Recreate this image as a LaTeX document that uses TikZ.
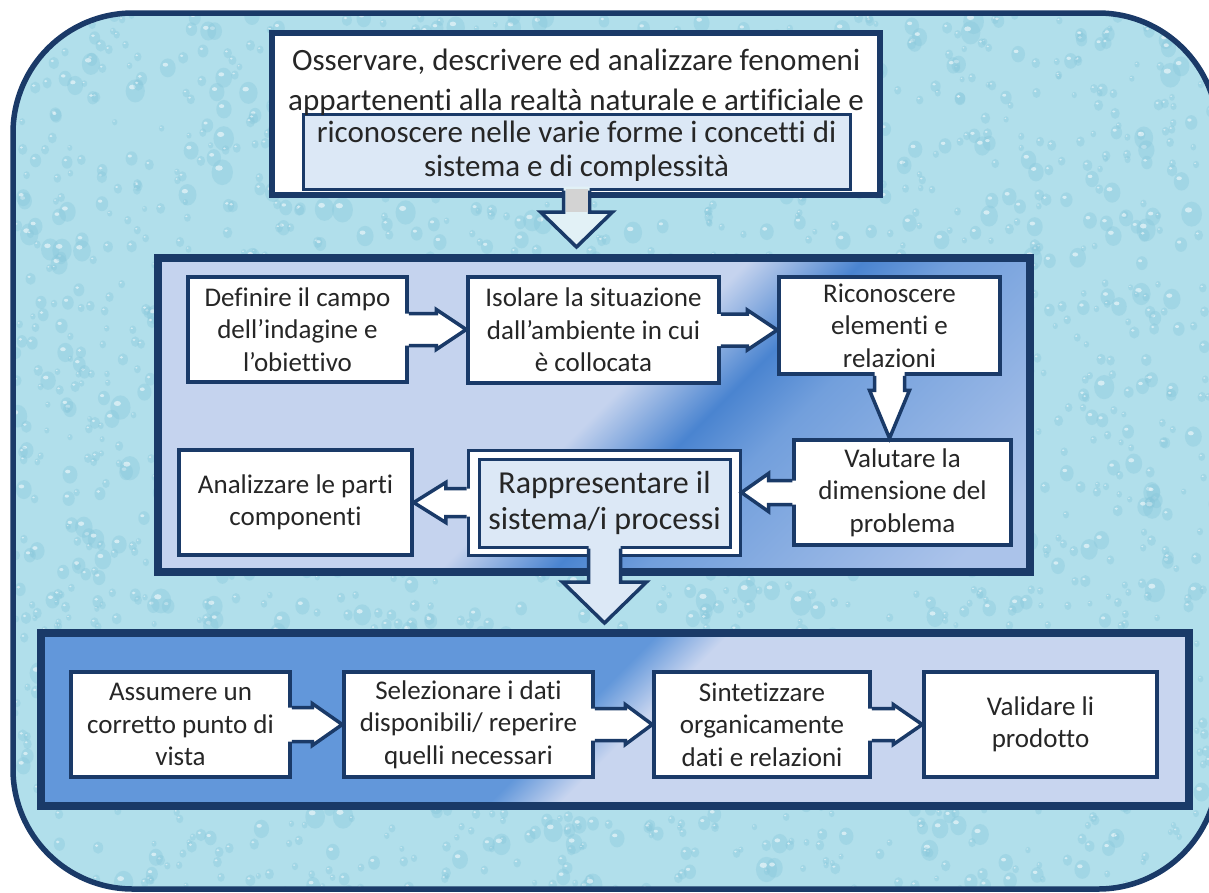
\documentclass[tikz,border=0pt]{standalone}
\usepackage{fontspec}
\setmainfont{Carlito}[Ligatures={TeX,NoCommon}]
\usetikzlibrary{calc}

\definecolor{navy}{HTML}{1A3A68}
\definecolor{ink}{HTML}{262626}
\definecolor{water}{HTML}{B1DFEB}
\definecolor{drop}{HTML}{86C6DA}
\definecolor{pale}{HTML}{DCE8F6}
\definecolor{stemgray}{HTML}{D3D3D3}
\definecolor{headwhite}{HTML}{E2F1F6}
\definecolor{mpLight}{HTML}{C5D3EE}
\definecolor{mpDark}{HTML}{4A84D0}
\definecolor{mpMid}{HTML}{729FDC}
\definecolor{mpFar}{HTML}{ABC3EA}
\definecolor{bpBlue}{HTML}{6297DA}
\definecolor{bpLav}{HTML}{C8D5EF}

\pgfdeclarehorizontalshading{midshade}{100bp}{color(0bp)=(mpLight); color(50bp)=(mpLight); color(59bp)=(mpDark); color(66bp)=(mpMid); color(90bp)=(mpFar); color(100bp)=(mpFar)}
\pgfdeclarehorizontalshading{botshade}{100bp}{color(0bp)=(bpBlue); color(47bp)=(bpBlue); color(52bp)=(bpLav); color(100bp)=(bpLav)}

% diagonal gradient inside a panel node, then its frame
\newcommand{\panelshade}[3]{%
  \begin{scope}
    \clip (#1.north west) rectangle (#1.south east);
    \pgftransformshift{\pgfpointanchor{#1}{center}}
    \pgftransformrotate{-45}
    \pgftransformscale{#3}
    \pgflowlevelsynccm
    \pgfuseshading{#2}
  \end{scope}
  \draw[panel] (#1.north west) rectangle (#1.south east);}

% block arrows: [fill]{from}{to}{stem half}{head half}{head length}
\newcommand{\rarrow}[6][white]{%
  \fill[#1] let \p1=(#2), \p2=(#3) in ({\x1-4pt},{\y1+#4pt}) -- ({\x2-#6pt},{\y1+#4pt}) -- ({\x2-#6pt},{\y1+#5pt}) -- (\x2,\y1) -- ({\x2-#6pt},{\y1-#5pt}) -- ({\x2-#6pt},{\y1-#4pt}) -- ({\x1-4pt},{\y1-#4pt}) -- cycle;
  \draw[arrowline] let \p1=(#2), \p2=(#3) in (\x1,{\y1+#4pt}) -- ({\x2-#6pt},{\y1+#4pt}) -- ({\x2-#6pt},{\y1+#5pt}) -- (\x2,\y1) -- ({\x2-#6pt},{\y1-#5pt}) -- ({\x2-#6pt},{\y1-#4pt}) -- (\x1,{\y1-#4pt});}
\newcommand{\larrow}[6][white]{%
  \fill[#1] let \p1=(#2), \p2=(#3) in ({\x1+4pt},{\y1+#4pt}) -- ({\x2+#6pt},{\y1+#4pt}) -- ({\x2+#6pt},{\y1+#5pt}) -- (\x2,\y1) -- ({\x2+#6pt},{\y1-#5pt}) -- ({\x2+#6pt},{\y1-#4pt}) -- ({\x1+4pt},{\y1-#4pt}) -- cycle;
  \draw[arrowline] let \p1=(#2), \p2=(#3) in (\x1,{\y1+#4pt}) -- ({\x2+#6pt},{\y1+#4pt}) -- ({\x2+#6pt},{\y1+#5pt}) -- (\x2,\y1) -- ({\x2+#6pt},{\y1-#5pt}) -- ({\x2+#6pt},{\y1-#4pt}) -- (\x1,{\y1-#4pt});}
\newcommand{\darrow}[6][white]{%
  \fill[#1] let \p1=(#2), \p2=(#3) in ({\x1-#4pt},{\y1+4pt}) -- ({\x1-#4pt},{\y2+#6pt}) -- ({\x1-#5pt},{\y2+#6pt}) -- (\x1,\y2) -- ({\x1+#5pt},{\y2+#6pt}) -- ({\x1+#4pt},{\y2+#6pt}) -- ({\x1+#4pt},{\y1+4pt}) -- cycle;
  \draw[arrowline] let \p1=(#2), \p2=(#3) in ({\x1-#4pt},\y1) -- ({\x1-#4pt},{\y2+#6pt}) -- ({\x1-#5pt},{\y2+#6pt}) -- (\x1,\y2) -- ({\x1+#5pt},{\y2+#6pt}) -- ({\x1+#4pt},{\y2+#6pt}) -- ({\x1+#4pt},\y1);}

\begin{document}
\begin{tikzpicture}[x=1pt,y=-1pt,
    box/.style={draw=navy, line width=3.5pt, fill=white, align=center, text=ink, inner sep=0pt, font=\fontsize{27}{32.5}\selectfont},
    panel/.style={draw=navy, line width=7.5pt},
    arrowline/.style={draw=navy, line width=3.5pt, line join=miter}]
  \path[use as bounding box, fill=white] (0,0) rectangle (1209,892);
  \fill[water, rounded corners=120pt] (13,13) rectangle (1218,889);
  % water drops
  \begin{scope}
    \clip[rounded corners=120pt] (13,13) rectangle (1218,889);
    \pgfmathsetseed{42}
    \foreach \k in {1,...,2400}{
      \pgfmathsetmacro{\dx}{15+1200*rnd}
      \pgfmathsetmacro{\dy}{15+875*rnd}
      \pgfmathsetmacro{\dr}{2.5+9*rnd*rnd}
      \fill[drop, opacity=0.35] (\dx,\dy) ellipse ({\dr} and {1.2*\dr});
      \fill[white, opacity=0.55] ({\dx-0.3*\dr},{\dy-0.4*\dr}) ellipse ({0.35*\dr} and {0.25*\dr});
    }
  \end{scope}
  \draw[navy, line width=5.5pt, rounded corners=120pt] (13,13) rectangle (1218,889);

  % goal
  \node[box, line width=6pt, minimum width=608pt, minimum height=162pt] (obs) at (576,114) {};
  \node[box, fill=pale, line width=3pt, minimum width=547pt, minimum height=75pt, font=\fontsize{31}{34}\selectfont] (obsin) at (576.5,151.5) {riconoscere nelle varie forme i concetti di\\sistema e di complessità};
  \node[text=ink, align=center, font=\fontsize{31}{40}\selectfont] (obstxt) at (576,82) {Osservare, descrivere ed analizzare fenomeni\\appartenenti alla realtà naturale e artificiale e};
  \coordinate (t1) at (576,247);
  \darrow[headwhite]{obsin.south}{t1}{13}{36}{35}
  \fill[stemgray] let \p1=(obsin.south), \p2=(t1) in ({\x1-11pt},{\y1+2pt}) rectangle ({\x1+11pt},{\y2+35pt});

  % analysis
  \node[minimum width=872pt, minimum height=314pt, inner sep=0pt] (mid) at (594,415) {};
  \panelshade{mid}{midshade}{9}
  \node[box, minimum width=219pt, minimum height=105pt] (defin) at (297.5,329.5) {Definire il campo\\dell’indagine e\\l’obiettivo};
  \node[box, minimum width=251pt, minimum height=106pt] (isol) at (593.5,330) {Isolare la situazione\\dall’ambiente in cui\\è collocata};
  \node[box, minimum width=221pt, minimum height=97pt] (ricon) at (889.5,325.5) {Riconoscere\\elementi e\\relazioni};
  \node[box, minimum width=217pt, minimum height=105pt] (valut) at (902.5,492.5) {Valutare la\\dimensione del\\problema};
  \node[box, line width=3pt, minimum width=272pt, minimum height=105pt] (rappr) at (604,502.5) {};
  \node[box, line width=3pt, fill=pale, minimum width=251pt, minimum height=88pt, font=\fontsize{32}{36}\selectfont] (rappin) at (604.5,503) {Rappresentare il\\sistema/i processi};
  \node[box, minimum width=233pt, minimum height=105pt] (anal) at (295.5,502.5) {Analizzare le parti\\componenti};

  \rarrow{defin.east}{isol.west}{16}{20}{30}
  \rarrow{isol.east}{ricon.west}{16}{20}{30}
  \darrow{ricon.south}{valut.north}{15}{20}{48}
  \larrow{valut.west}{rappr.east}{12}{19}{27}
  \larrow{rappr.west}{anal.east}{14}{20}{32}

  % synthesis
  \node[minimum width=1148pt, minimum height=173pt, inner sep=0pt] (bot) at (615,719.5) {};
  \panelshade{bot}{botshade}{10}
  \node[box, minimum width=219pt, minimum height=105pt] (assum) at (180.5,724.5) {Assumere un\\corretto punto di\\vista};
  \node[box, minimum width=249pt, minimum height=105pt] (selez) at (468.5,724.5) {Selezionare i dati\\disponibili/ reperire\\quelli necessari};
  \node[box, minimum width=216pt, minimum height=105pt] (sinte) at (762,724.5) {Sintetizzare\\organicamente\\dati e relazioni};
  \node[box, minimum width=233pt, minimum height=105pt] (valid) at (1040.5,724.5) {Validare li\\prodotto};

  \coordinate (t2) at (605,623);
  \darrow[pale]{rappin.south}{t2}{16}{42}{41}
  \rarrow{assum.east}{selez.west}{17}{21}{30}
  \rarrow{selez.east}{sinte.west}{16}{20}{27}
  \rarrow{sinte.east}{valid.west}{16}{20}{29}
\end{tikzpicture}
\end{document}
